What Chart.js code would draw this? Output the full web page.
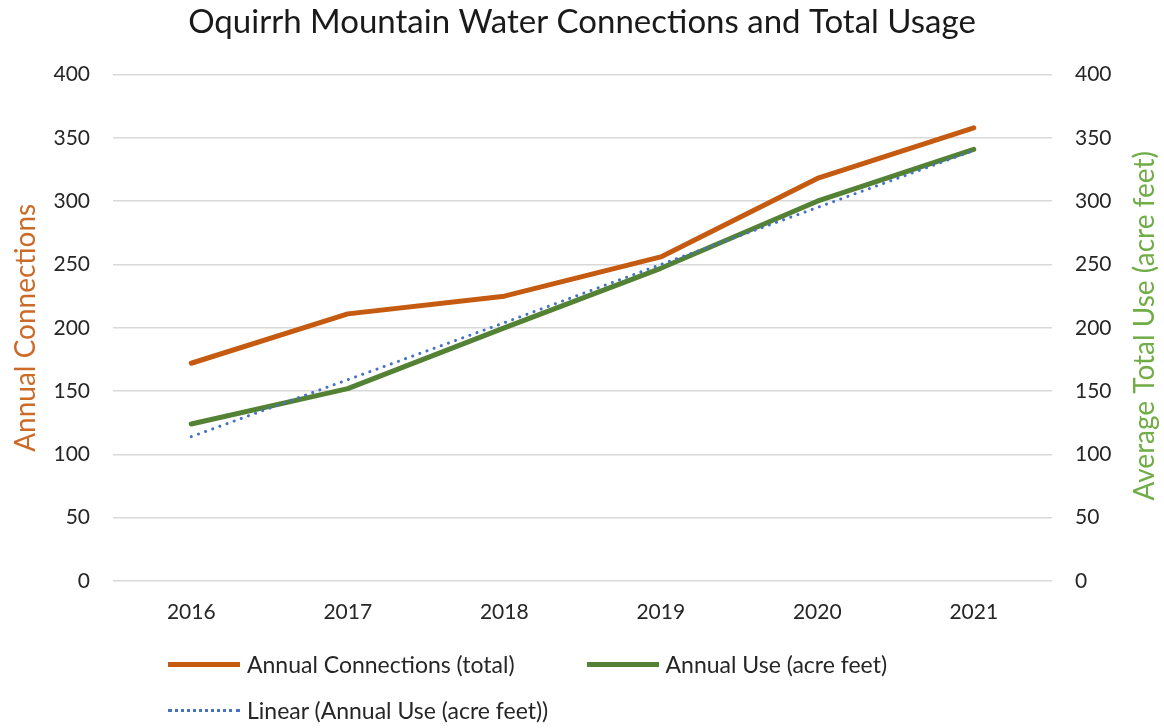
<!DOCTYPE html>
<html>
<head>
<meta charset="utf-8">
<script src="https://cdn.jsdelivr.net/npm/chart.js@4.4.1/dist/chart.umd.min.js"></script>
<style>
  html, body { margin: 0; padding: 0; background: #fff; }
  #wrap { position: relative; width: 1164px; height: 728px; font-family: Lato, "Open Sans", sans-serif; }
  .legend-row { position: absolute; left: 168px; display: flex; align-items: center; font-size: 23px; color: #262626; }
  .legend-item { display: flex; align-items: center; margin-right: 72px; }
  .swatch { width: 72px; height: 0; margin-right: 7px; }
</style>
</head>
<body>
<div id="wrap">
  <canvas id="chart" width="1164" height="728"></canvas>
  <div class="legend-row" id="legendRow1" style="top:650px"></div>
  <div class="legend-row" id="legendRow2" style="top:696px"></div>
</div>
<script>
const years = ["2016", "2017", "2018", "2019", "2020", "2021"];
const connections = [172, 211, 225, 256, 318, 358];
const annualUse = [124, 152, 200, 247, 300, 341];
const linearUse = [114, 159, 204, 250, 295, 340];

const axisMin = 0;
const axisMax = 400;
const axisStep = 50;

const orange = "#C55A11";
const green = "#548235";
const blue = "#4472C4";
const fontFamily = "Lato, 'Open Sans', sans-serif";

const rightTitle = {
  id: "rightTitle",
  afterDraw(chart) {
    const { ctx, chartArea } = chart;
    const sc = chart.scales.y1;
    ctx.save();
    ctx.translate(sc.right - 19, (chartArea.top + chartArea.bottom) / 2 - 2);
    ctx.rotate(-Math.PI / 2);
    ctx.font = "28px " + fontFamily;
    ctx.fillStyle = "#70AD47";
    ctx.textAlign = "center";
    ctx.textBaseline = "middle";
    ctx.fillText("Average Total Use (acre feet)", 0, 0);
    ctx.restore();
  },
};

const chart = new Chart(document.getElementById("chart"), {
  type: "line",
  data: {
    labels: years,
    datasets: [
      {
        label: "Annual Connections (total)",
        data: connections,
        yAxisID: "y",
        borderColor: orange,
        borderWidth: 5,
        pointRadius: 0,
        borderCapStyle: "round",
        borderJoinStyle: "round",
        order: 2,
      },
      {
        label: "Annual Use (acre feet)",
        data: annualUse,
        yAxisID: "y1",
        borderColor: green,
        borderWidth: 5,
        pointRadius: 0,
        borderCapStyle: "round",
        borderJoinStyle: "round",
        order: 1,
      },
      {
        label: "Linear (Annual Use (acre feet))",
        data: linearUse,
        yAxisID: "y1",
        borderColor: blue,
        borderWidth: 3,
        borderDash: [0.1, 7.5],
        borderCapStyle: "round",
        pointRadius: 0,
        order: 0,
      },
    ],
  },
  options: {
    responsive: false,
    animation: false,
    layout: { padding: 0 },
    plugins: {
      legend: { display: false },
      tooltip: { enabled: false },
      title: {
        display: true,
        text: "Oquirrh Mountain Water Connections and Total Usage",
        color: "#1a1a1a",
        font: { family: fontFamily, size: 33, weight: "normal" },
        padding: { top: 3, bottom: 32 },
      },
    },
    scales: {
      x: {
        offset: true,
        grid: { display: false, drawTicks: false, offset: true },
        border: { display: false },
        ticks: { color: "#262626", font: { family: fontFamily, size: 21 }, padding: 19 },
        afterFit: (scale) => { scale.height = 147; },
      },
      y: {
        position: "left",
        min: axisMin,
        max: axisMax,
        ticks: { stepSize: axisStep, color: "#262626", font: { family: fontFamily, size: 21 }, padding: 23 },
        grid: { color: "#D9D9D9", lineWidth: 1.5, drawTicks: false },
        border: { display: false },
        title: {
          display: true,
          text: "Annual Connections",
          color: "#CC6A28",
          font: { family: fontFamily, size: 28 },
          padding: { top: 9, bottom: 0 },
        },
        afterFit: (scale) => { scale.width = 113; },
      },
      y1: {
        position: "right",
        min: axisMin,
        max: axisMax,
        ticks: { stepSize: axisStep, color: "#262626", font: { family: fontFamily, size: 21 }, padding: 23 },
        grid: { display: false, drawTicks: false },
        border: { display: false },
        afterFit: (scale) => { scale.width = 112; },
      },
    },
  },
  plugins: [rightTitle],
});

// legend rows built from the datasets
const makeItem = (ds) => {
  const item = document.createElement("div");
  item.className = "legend-item";
  const sw = document.createElement("span");
  sw.className = "swatch";
  if (ds.borderDash) {
    sw.style.borderTop = "3px dotted " + ds.borderColor;
  } else {
    sw.style.borderTop = "5px solid " + ds.borderColor;
  }
  const txt = document.createElement("span");
  txt.textContent = ds.label;
  item.appendChild(sw);
  item.appendChild(txt);
  return item;
};

const sets = chart.data.datasets;
document.getElementById("legendRow1").appendChild(makeItem(sets[0]));
document.getElementById("legendRow1").appendChild(makeItem(sets[1]));
document.getElementById("legendRow2").appendChild(makeItem(sets[2]));
</script>
</body>
</html>
